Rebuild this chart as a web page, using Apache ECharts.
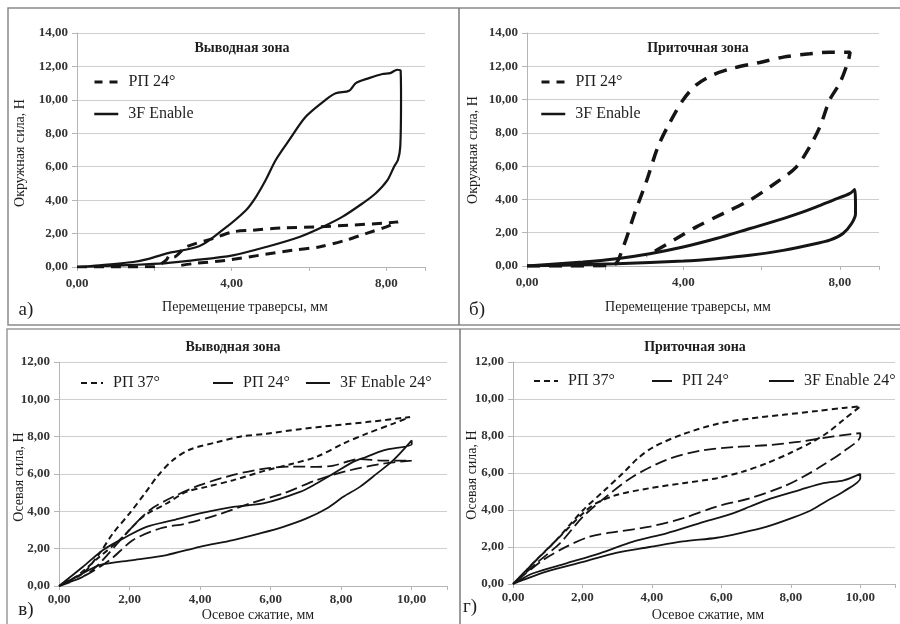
<!DOCTYPE html>
<html><head><meta charset="utf-8">
<script src="https://cdn.jsdelivr.net/npm/echarts@6/dist/echarts.min.js"></script>
<style>html,body{margin:0;padding:0;background:#fff}#c{width:900px;height:624px}</style>
</head><body><div id="c"></div>
<script>
// ---- Data (x = displacement/compression, мм ; y = force, Н) ----
const topYTicks = [0, 14, 2];      // min, max, step
const botYTicks = [0, 12, 2];
const topXTicks = [0, 9, 2];
const botXTicks = [0, 11, 2];

// а) Выводная зона
const a_RP24 = [[0,0],[1.0,0],[2.0,0.02],[2.3,0.4],[2.4,0.7],[2.5,0.6],[2.82,1.2],[3.51,1.7],[4.03,2.1],[4.54,2.2],[5.32,2.34],[6.18,2.4],[7.04,2.5],[7.9,2.62],[8.3,2.7],[8.0,2.4],[7.47,2.0],[6.95,1.6],[6.26,1.2],[5.57,1.0],[4.71,0.7],[3.85,0.4],[3.0,0.2],[2.65,0.08]];
const a_3F = [[0,0],[0.58,0.1],[1.45,0.3],[1.88,0.5],[2.3,0.8],[3.17,1.25],[3.76,2.2],[4.37,3.4],[4.63,4.2],[4.88,5.2],[5.14,6.4],[5.49,7.6],[5.92,9.0],[6.43,10.0],[6.69,10.4],[7.04,10.55],[7.21,11.0],[7.55,11.3],[7.9,11.55],[8.1,11.6],[8.28,11.8],[8.37,11.75],[8.38,10.0],[8.36,7.2],[8.3,6.4],[8.2,6.0],[8.03,5.2],[7.72,4.4],[7.38,3.8],[6.86,3.0],[6.35,2.4],[5.75,1.8],[4.89,1.2],[4.03,0.7],[2.99,0.4],[2.13,0.2],[0,0]];

// б) Приточная зона
const b_RP24 = [[0,0],[1.0,0],[2.2,0.05],[2.46,1.15],[2.75,3.15],[3.05,5.06],[3.35,7.17],[3.64,8.57],[3.99,9.98],[4.33,10.88],[4.76,11.49],[5.27,11.89],[5.95,12.23],[6.55,12.55],[7.23,12.75],[7.74,12.85],[8.26,12.85],[8.21,12.29],[8.0,11.0],[7.74,9.98],[7.49,8.37],[7.23,7.17],[6.89,5.96],[6.46,5.16],[5.7,3.96],[5.01,3.15],[4.33,2.35],[3.82,1.65],[3.31,0.94],[3.05,0.6]];
const b_3F = [[0,0],[1.43,0.24],[2.29,0.44],[3.14,0.74],[3.99,1.14],[4.84,1.65],[5.7,2.25],[6.55,2.85],[7.06,3.25],[7.4,3.55],[7.83,3.96],[8.26,4.36],[8.38,4.6],[8.4,3.15],[8.3,2.55],[8.08,1.95],[7.74,1.55],[7.4,1.35],[6.55,0.94],[5.7,0.64],[4.84,0.44],[4.0,0.3],[2.29,0.14],[0,0]];

// в) Выводная зона
const c_RP37 = [[0,0],[0.68,0.68],[1.15,1.75],[1.53,2.82],[2.0,3.89],[2.45,5.0],[2.8,5.9],[3.2,6.7],[3.7,7.3],[4.47,7.7],[5.13,8.0],[5.88,8.16],[6.83,8.4],[7.78,8.6],[8.72,8.78],[9.95,9.05],[9.48,8.7],[8.72,8.16],[8.06,7.63],[7.3,6.92],[6.64,6.56],[5.88,6.2],[4.94,5.67],[4.18,5.31],[3.61,5.04],[3.05,4.42],[2.38,3.71],[1.72,2.46],[1.15,1.57],[0.49,0.5],[0,0]];
const c_RP24 = [[0,0],[0.68,0.5],[1.15,1.21],[1.91,2.82],[2.57,4.06],[3.24,4.78],[3.99,5.4],[4.94,5.95],[5.88,6.3],[6.64,6.4],[7.3,6.38],[7.78,6.45],[8.53,6.8],[9.2,6.72],[10,6.72],[9.2,6.56],[8.25,6.2],[7.3,5.67],[6.36,4.96],[5.41,4.42],[4.47,3.8],[3.61,3.35],[2.86,3.08],[2.1,2.46],[1.44,1.39],[0.68,0.5],[0,0]];
const c_3F = [[0,0],[0.68,1.03],[1.25,1.93],[1.91,2.64],[2.48,3.17],[3.24,3.53],[3.99,3.89],[4.94,4.24],[5.79,4.42],[6.83,5.04],[7.3,5.49],[7.78,6.02],[8.34,6.65],[8.72,6.92],[9.2,7.27],[10,7.6],[10,7.8],[9.48,6.74],[9.01,6.02],[8.53,5.31],[8.06,4.78],[7.59,4.15],[7.02,3.62],[6.36,3.17],[5.7,2.82],[4.94,2.46],[3.99,2.1],[3.05,1.66],[2.1,1.39],[1.15,1.12],[0.68,0.68],[0,0]];

// г) Приточная зона
const d_RP37 = [[0,0],[0.58,1.12],[1.25,2.38],[2.02,4.0],[2.6,5.0],[3.17,6.0],[3.6,6.8],[4.04,7.4],[4.9,8.1],[5.87,8.65],[6.83,8.95],[7.79,9.15],[8.75,9.35],[9.52,9.52],[10,9.6],[9.52,8.88],[9.04,8.16],[8.56,7.62],[7.98,7.08],[7.31,6.53],[6.63,6.08],[5.87,5.72],[4.9,5.45],[3.94,5.18],[3.0,4.82],[2.4,4.37],[2.02,3.83],[1.35,2.56],[0.67,1.3],[0,0]];
const d_RP24 = [[0,0],[0.67,1.12],[1.35,2.2],[2.02,3.65],[2.69,4.73],[3.46,5.81],[4.42,6.71],[5.38,7.2],[6.35,7.4],[7.31,7.5],[8.27,7.7],[9.23,7.98],[10,8.16],[10,7.98],[9.52,7.17],[8.94,6.44],[8.37,5.81],[7.79,5.27],[6.83,4.64],[5.87,4.19],[4.9,3.56],[3.94,3.1],[3.0,2.83],[2.21,2.56],[1.54,2.02],[0.87,1.3],[0,0]];
const d_3F = [[0,0],[0.58,0.58],[1.54,1.12],[2.5,1.66],[3.46,2.29],[4.42,2.74],[5.38,3.29],[6.35,3.83],[6.83,4.19],[7.31,4.55],[8.27,5.09],[8.94,5.45],[9.52,5.6],[10,5.95],[10,5.72],[9.52,5.0],[9.0,4.45],[8.6,4.0],[8.08,3.6],[7.31,3.1],[6.54,2.75],[5.87,2.5],[4.9,2.3],[3.94,2.0],[3.0,1.7],[2.02,1.2],[0.96,0.67],[0.29,0.22],[0,0]];

// ---- Chart ----
const FONT = '"Liberation Serif","Times New Roman",serif';
const TXT = '#1e1e1e';
const fmt = v => v.toFixed(2).replace('.', ',');

const grids = [
  {left:77, top:33, width:348, height:234},
  {left:527, top:33, width:352, height:233},
  {left:59, top:362, width:388, height:224},
  {left:513, top:362, width:382, height:222}
];

function xAxis(i, t, labelFn, margin){
  return {type:'value', gridIndex:i, min:t[0], max:t[1], interval:t[2],
    axisLine:{show:true, onZero:false, lineStyle:{color:'#b5b5b5', width:1}},
    axisTick:{show:true, length:4, lineStyle:{color:'#b5b5b5'}},
    splitLine:{show:false},
    axisLabel:{margin:margin, fontFamily:FONT, fontSize:13, fontWeight:'bold', color:'#333', formatter:labelFn}};
}
function yAxis(i, t){
  return {type:'value', gridIndex:i, min:t[0], max:t[1], interval:t[2],
    axisLine:{show:true, lineStyle:{color:'#b5b5b5', width:1}},
    axisTick:{show:true, length:5, lineStyle:{color:'#b5b5b5'}},
    splitLine:{show:true, lineStyle:{color:'#cfcfcf', width:1}},
    axisLabel:{margin:9, fontFamily:FONT, fontSize:13, fontWeight:'bold', color:'#333', formatter:v=>fmt(v)}};
}
const topXLabel = v => (v % 4 === 0 && v <= 8) ? fmt(v) : '';
const botXLabel = v => (v <= 10) ? fmt(v) : '';

function ser(name, i, data, type, width){
  return {name:name, type:'line', xAxisIndex:i, yAxisIndex:i, data:data, symbol:'none',
    smooth:0.3, animation:false,
    lineStyle:{color:'#151515', width:width, type:type, cap:'butt'},
    itemStyle:{color:'#151515'}};
}

const series = [
  ser('РП 24°|a', 0, a_RP24, [10,7], 3),
  ser('3F Enable|a', 0, a_3F, 'solid', 2.2),
  ser('РП 24°|b', 1, b_RP24, [13,9], 3.5),
  ser('3F Enable|b', 1, b_3F, 'solid', 3),
  ser('РП 37°|c', 2, c_RP37, [6,4], 2),
  ser('РП 24°|c', 2, c_RP24, [12,5], 1.8),
  ser('3F Enable 24°|c', 2, c_3F, 'solid', 1.8),
  ser('РП 37°|d', 3, d_RP37, [6,4], 2),
  ser('РП 24°|d', 3, d_RP24, [12,5], 1.8),
  ser('3F Enable 24°|d', 3, d_3F, 'solid', 1.8)
];

function leg(name, left, cy, w, lw, dash){
  return {data:[name], left:left, top:cy-9, itemWidth:w, itemHeight:14, selectedMode:false,
    formatter:n=>n.split('|')[0], padding:0,
    itemStyle:{opacity:0, borderWidth:0},
    lineStyle:{width:lw, type:dash, color:'#151515', cap:'butt'},
    textStyle:{fontFamily:FONT, fontSize:16, color:TXT, padding:[0,0,0,5]}};
}
const legends = [
  leg('РП 24°|a', 93, 83, 24, 3, [8,7]), leg('3F Enable|a', 93, 115, 24, 2.5, 'solid'),
  leg('РП 24°|b', 540, 83, 24, 3, [8,7]), leg('3F Enable|b', 540, 115, 24, 2.5, 'solid'),
  leg('РП 37°|c', 80, 384, 22, 2, [6,4]), leg('РП 24°|c', 212, 384, 20, 2, 'solid'), leg('3F Enable 24°|c', 305, 384, 24, 2, 'solid'),
  leg('РП 37°|d', 533, 382, 24, 2, [6,4]), leg('РП 24°|d', 651, 382, 20, 2, 'solid'), leg('3F Enable 24°|d', 768, 382, 25, 2, 'solid')
];

function txt(s, x, y, size, rot, weight){
  return {type:'text', x:x, y:y, rotation:rot||0, silent:true,
    style:{text:s, fill:TXT, font:(weight||'normal')+' '+size+'px '+FONT, textAlign:'center', textVerticalAlign:'middle'}};
}
const graphic = [
  {type:'rect', shape:{x:8, y:8, width:900, height:317}, style:{fill:'none', stroke:'#8a8a8a', lineWidth:1.5}, silent:true},
  {type:'line', shape:{x1:459, y1:8, x2:459, y2:325}, style:{stroke:'#7a7a7a', lineWidth:1.5}, silent:true},
  {type:'rect', shape:{x:7, y:329, width:900, height:300}, style:{fill:'none', stroke:'#9a9a9a', lineWidth:1.5}, silent:true},
  {type:'line', shape:{x1:460, y1:329, x2:460, y2:624}, style:{stroke:'#7a7a7a', lineWidth:1.5}, silent:true},
  txt('Выводная зона', 242, 48, 14, 0, 'bold'),
  txt('Приточная зона', 698, 48, 14, 0, 'bold'),
  txt('Выводная зона', 233, 347, 14, 0, 'bold'),
  txt('Приточная зона', 695, 347, 14, 0, 'bold'),
  txt('Окружная сила, Н', 20, 153, 14, Math.PI/2),
  txt('Окружная сила, Н', 473, 150, 14, Math.PI/2),
  txt('Осевая сила, Н', 19, 477, 14, Math.PI/2),
  txt('Осевая сила, Н', 472, 475, 14, Math.PI/2),
  txt('Перемещение траверсы, мм', 245, 307, 14),
  txt('Перемещение траверсы, мм', 688, 307, 14),
  txt('Осевое сжатие, мм', 258, 615, 14),
  txt('Осевое сжатие, мм', 708, 615, 14),
  txt('а)', 26, 310, 19),
  txt('б)', 477, 310, 19),
  txt('в)', 26, 610, 19),
  txt('г)', 470, 607, 19)
];

const chart = echarts.init(document.getElementById('c'), null, {renderer:'canvas'});
chart.setOption({
  animation:false,
  backgroundColor:'#fff',
  grid:grids,
  xAxis:[xAxis(0, topXTicks, topXLabel, 10), xAxis(1, topXTicks, topXLabel, 10), xAxis(2, botXTicks, botXLabel, 7), xAxis(3, botXTicks, botXLabel, 7)],
  yAxis:[yAxis(0, topYTicks), yAxis(1, topYTicks), yAxis(2, botYTicks), yAxis(3, botYTicks)],
  legend:legends,
  series:series,
  graphic:graphic
});
</script></body></html>
